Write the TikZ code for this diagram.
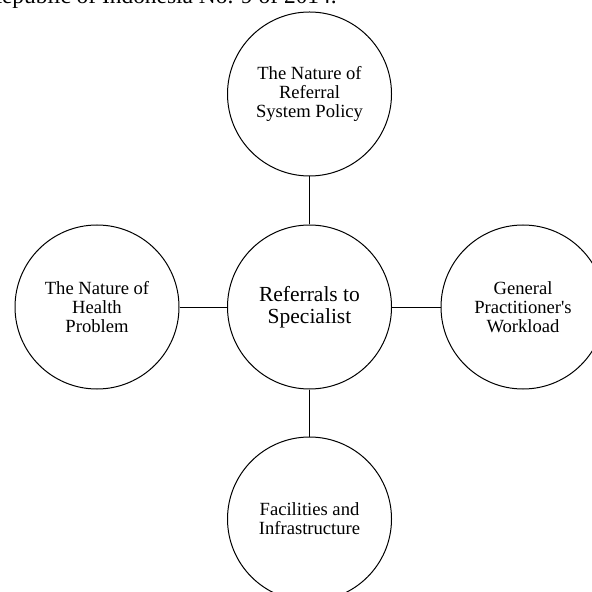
\documentclass[tikz,border=0pt]{standalone}
\usepackage{fontspec}
\setmainfont{Liberation Serif}

\begin{document}
\begin{tikzpicture}[x=0.5pt,y=-0.5pt,
  factor/.style={draw,circle,line width=0.5pt,minimum size=82pt,inner sep=0pt,
    align=center,font=\fontsize{9.3}{9.4}\selectfont},
  link/.style={line width=0.5pt}]
% page frame
\useasboundingbox (0,0) rectangle (592,592);
\clip (0,0) rectangle (592,592);

% last line of the text above
\node[anchor=base west,inner sep=0pt,font=\fontsize{11.7}{14}\selectfont] (caption)
  at (-14,4) {Republic of Indonesia No. 9 of 2014.};

% central circle
\node[factor,font=\fontsize{10.75}{10.8}\selectfont] (referral) at (309.5,307)
  {Referrals to\\Specialist};

% surrounding factors
\node[factor] (policy) at (309.5,94) {The Nature of\\Referral\\System Policy};
\node[factor] (health) at (97,307) {The Nature of\\Health\\Problem};
\node[factor] (workload) at (523,307) {General\\Practitioner\textquotesingle s\\Workload};
\node[factor] (facility) at (309.5,519) {Facilities and\\Infrastructure};

% links to the centre
\draw[link] (policy) -- (referral);
\draw[link] (health) -- (referral);
\draw[link] (workload) -- (referral);
\draw[link] (facility) -- (referral);

\end{tikzpicture}
\end{document}
